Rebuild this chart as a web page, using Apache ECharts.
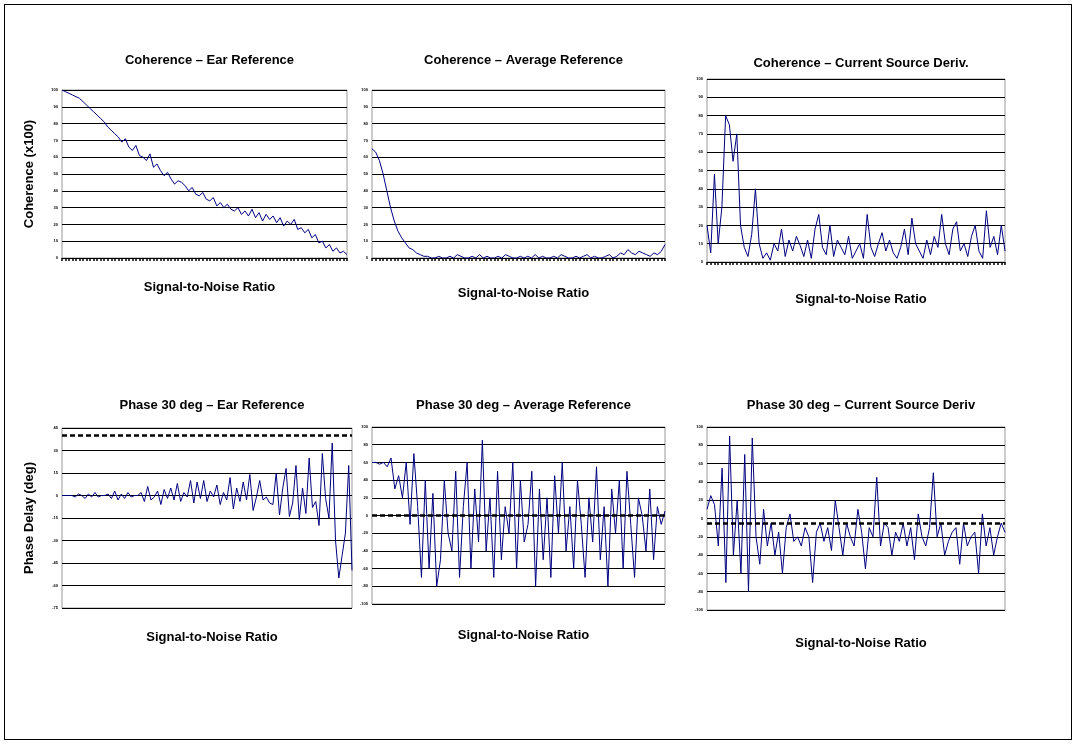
<!DOCTYPE html>
<html>
<head>
<meta charset="utf-8">
<script src="https://cdn.jsdelivr.net/npm/echarts@6/dist/echarts.min.js"></script>
<style>
body {margin:0;padding:0;overflow:hidden;background:#fff;}
#frame {position:absolute;left:4px;top:4px;width:1066px;height:734px;border:1px solid #000;}
#main {position:absolute;left:0;top:0;width:1076px;height:744px;}
</style>
</head>
<body>
<div id="frame"></div>
<div id="main"></div>
<script>
// coherence, ear reference
let cohEar = [100,99,98,97,96,95,93,91,89,87,85,83,81,78,76,74,72,69,71,66,64,67,61,60,58,62,54,56,52,49,51,47,44,46,45,43,40,42,38,37,39,35,34,36,31,33,30,32,29,28,30,26,28,25,29,24,27,22,26,23,25,21,24,19,22,20,23,17,18,15,17,12,14,9,10,6,8,4,6,3,4,2];
let cohAvg = [65,63,58,50,40,30,22,16,12,9,6,5,3,2,1,1,0,0,1,0,0,1,0,2,1,0,0,1,0,2,0,1,0,0,1,0,2,1,0,0,1,0,1,0,2,0,1,0,0,1,0,2,1,0,0,1,0,1,2,0,1,0,0,1,2,0,1,3,2,5,3,2,4,3,2,1,3,2,4,8];
let cohCsd = [20,5,48,10,30,80,75,55,70,20,8,3,15,40,10,2,5,1,10,6,18,3,12,6,14,9,3,12,2,18,26,8,4,20,3,12,8,4,14,2,6,10,2,26,8,3,10,16,6,12,5,2,8,18,4,24,10,6,2,12,4,14,8,26,10,4,18,22,6,10,3,14,20,6,2,28,8,14,4,20,6];
let phEar = [0,0,0,0,-1,1,0,-2,1,-1,2,-1,0,0,1,-2,3,-3,1,-2,2,-1,0,0,2,-4,6,-3,-1,3,-6,4,-2,5,-3,8,-4,2,-1,10,-5,9,-2,10,-4,3,-1,7,-6,2,-3,12,-9,5,-4,9,-3,14,-10,-1,10,-3,-1,-5,-6,15,-13,5,18,-14,-5,20,-16,5,-12,25,-8,-4,-20,28,-2,-15,35,-30,-55,-40,-25,20,-50];
let phAvg = [60,60,58,60,55,65,30,45,20,60,-10,70,10,-70,40,-60,25,-80,-50,40,-20,-40,50,-70,10,60,-60,30,-30,85,-40,20,-70,50,-50,10,-20,60,-60,40,-30,-10,50,-80,30,-50,20,-70,45,-20,60,-40,10,-60,40,-10,-70,20,-30,55,-50,10,-80,30,-20,40,-60,50,-10,-70,20,0,-40,30,-50,10,-10,5];
let phCsd = [10,25,15,-30,55,-70,90,-40,20,-60,70,-80,88,-20,-50,10,-30,-5,-40,-15,-60,-10,5,-25,-20,-30,-10,-20,-70,-15,-5,-25,-10,-35,20,-10,-40,-5,-20,-30,10,-15,-55,-10,-20,45,-30,-5,-10,-40,-15,-25,-5,-30,-10,-45,5,-20,-30,-10,50,-20,-5,-40,-25,-15,-10,-50,-5,-30,-20,-15,-60,5,-30,-10,-40,-20,-5,-15];

let titles = ['Coherence – Ear Reference','Coherence – Average Reference','Coherence – Current Source Deriv.',
              'Phase 30 deg – Ear Reference','Phase 30 deg – Average Reference','Phase 30 deg – Current Source Deriv'];
let series = [cohEar, cohAvg, cohCsd, phEar, phAvg, phCsd];
let yScales = [[0,100,10],[0,100,10],[0,100,10],[-75,45,15],[-100,100,20],[-100,100,20]];
let refLines = [null,null,null,40,0,-5];
// panel boxes [left, top, width, height, titleY, xNameY]
let boxes = [[62,90,285,168,57,284],[372,90,293,168,57,290],[707,79,298,183,60,296],
             [62,428,290,180,402,634],[372,427,293,177,402,632],[707,427,298,183,402,640]];

let font = 'Liberation Sans';
let chart = echarts.init(document.getElementById('main'));
let option = {animation:false, title:[], grid:[], xAxis:[], yAxis:[], series:[]};
for (let i = 0; i < 6; i++) {
    let b = boxes[i];
    let data = series[i];
    let cats = data.map((v, k) => String(k + 1));
    option.title.push({text:titles[i], left:b[0]+b[2]/2, top:b[4]-8, textAlign:'center',
        textStyle:{fontFamily:font, fontSize:13, fontWeight:'bold', color:'#000'}});
    option.title.push({text:'Signal-to-Noise Ratio', left:b[0]+b[2]/2, top:b[5]-8, textAlign:'center',
        textStyle:{fontFamily:font, fontSize:13, fontWeight:'bold', color:'#000'}});
    option.grid.push({left:b[0], top:b[1], width:b[2], height:b[3], show:true, borderColor:'#999', borderWidth:1});
    option.xAxis.push({type:'category', gridIndex:i, data:cats, boundaryGap:false,
        axisLine:{show:false}, axisTick:{show:i<3, interval:0, length:3, lineStyle:{color:'#000', width:1.5}},
        axisLabel:{show:false}});
    let ys = yScales[i];
    option.yAxis.push({type:'value', gridIndex:i, min:ys[0], max:ys[1], interval:ys[2],
        name: i==0 ? 'Coherence (x100)' : (i==3 ? 'Phase Delay (deg)' : ''),
        nameLocation:'middle', nameGap:26, nameRotate:90,
        nameTextStyle:{fontFamily:font, fontSize:13, fontWeight:'bold', color:'#000'},
        axisLine:{show:false}, axisTick:{show:false},
        axisLabel:{fontSize:4, color:'#000', fontWeight:'bold', margin:4},
        splitLine:{show:true, lineStyle:{color:'#000', width:1}}});
    let s = {type:'line', xAxisIndex:i, yAxisIndex:i, data:data, symbol:'none',
        lineStyle:{color:'#000080', width:1}};
    if (refLines[i] !== null) {
        s.markLine = {symbol:'none', silent:true, label:{show:false},
            lineStyle:{color:'#000', type:[5,3], width:2.5},
            data:[{yAxis:refLines[i]}]};
    }
    option.series.push(s);
}
chart.setOption(option);
window.onresize = chart.resize;
</script>
</body>
</html>
